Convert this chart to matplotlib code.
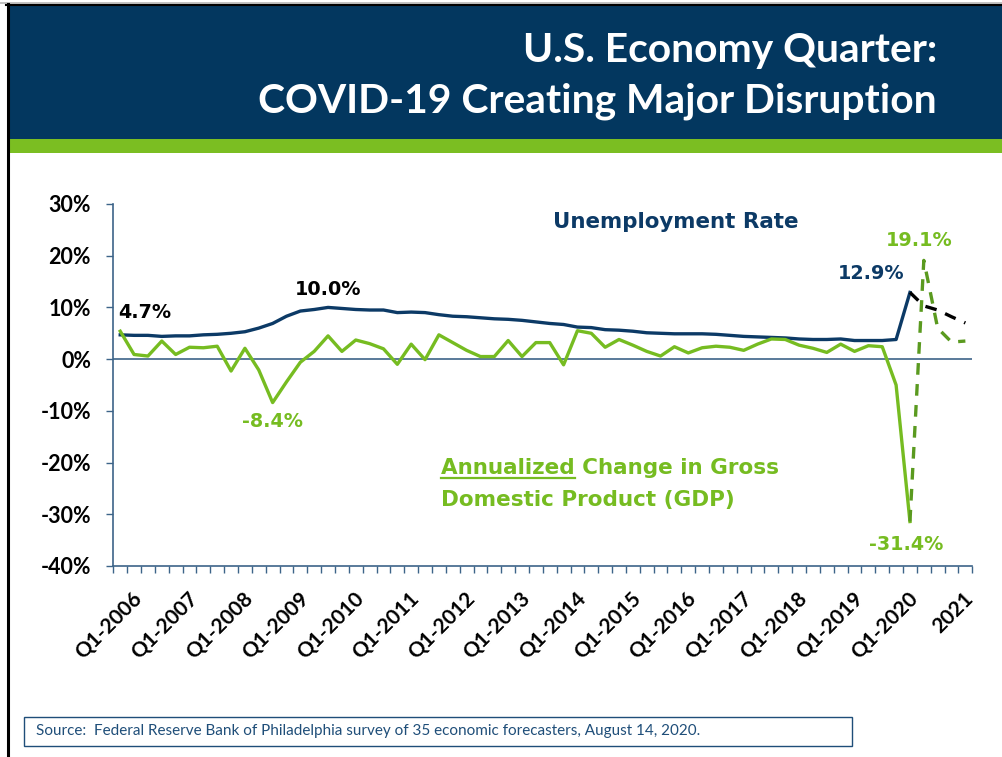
import matplotlib
matplotlib.use('Agg')
import matplotlib.pyplot as plt
import matplotlib.transforms as mtransforms
import numpy as np
from matplotlib.patches import Rectangle
from matplotlib.lines import Line2D

# ---------------- data ----------------
tick_labels = ["Q1-2006", "Q1-2007", "Q1-2008", "Q1-2009", "Q1-2010", "Q1-2011",
               "Q1-2012", "Q1-2013", "Q1-2014", "Q1-2015", "Q1-2016", "Q1-2017",
               "Q1-2018", "Q1-2019", "Q1-2020", "2021"]
n_quarters = 62  # Q1-2006 .. Q2-2021

unemp_actual = [4.7, 4.6, 4.6, 4.4, 4.5, 4.5, 4.7, 4.8,
                5.0, 5.3, 6.0, 6.9, 8.3, 9.3, 9.6, 10.0,
                9.8, 9.6, 9.5, 9.5, 9.0, 9.1, 9.0, 8.6,
                8.3, 8.2, 8.0, 7.8, 7.7, 7.5, 7.2, 6.9,
                6.7, 6.2, 6.1, 5.7, 5.6, 5.4, 5.1, 5.0,
                4.9, 4.9, 4.9, 4.8, 4.6, 4.4, 4.3, 4.2,
                4.1, 3.9, 3.8, 3.8, 3.9, 3.6, 3.6, 3.6,
                3.8, 12.9]
unemp_forecast = [12.9, 10.3, 9.5, 8.2, 7.0]

gdp_actual = [5.4, 0.9, 0.6, 3.5, 0.9, 2.3, 2.2, 2.5,
              -2.3, 2.1, -2.1, -8.4, -4.4, -0.6, 1.5, 4.5,
              1.5, 3.7, 3.0, 2.0, -1.0, 2.9, -0.1, 4.7,
              3.2, 1.7, 0.5, 0.5, 3.6, 0.5, 3.2, 3.2,
              -1.1, 5.5, 5.0, 2.3, 3.8, 2.7, 1.5, 0.6,
              2.4, 1.2, 2.2, 2.5, 2.3, 1.7, 2.9, 3.9,
              3.8, 2.7, 2.1, 1.3, 2.9, 1.5, 2.6, 2.4,
              -5.0, -31.4]
gdp_forecast = [-31.4, 19.1, 6.0, 3.3, 3.5]

y_ticks = [-40, -30, -20, -10, 0, 10, 20, 30]

# ---------------- style ----------------
NAVY_BAND = '#03375F'
GREEN_BAND = '#7BBE22'
NAVY = '#0C3A66'
GREEN = '#76BC21'
GREEN_DARK = '#5A9A1F'
AXIS = '#3D6489'
SRC = '#1F4E79'
CAL = ['Lato', 'DejaVu Sans']
VER = ['DejaVu Sans']

W, H = 1003, 757
fig = plt.figure(figsize=(W / 100, H / 100), dpi=100)
fig.patch.set_facecolor('white')


def fx(x):
    return x / W


def fy(y):
    return 1 - y / H


# header band
fig.add_artist(Rectangle((fx(9), fy(139)), (W - 9) / W, (139 - 6) / H,
                         transform=fig.transFigure, facecolor=NAVY_BAND, lw=0))
fig.add_artist(Rectangle((fx(9), fy(153)), (W - 9) / W, 14 / H,
                         transform=fig.transFigure, facecolor=GREEN_BAND, lw=0))
fig.add_artist(Line2D([0, 1], [fy(2.5)] * 2, transform=fig.transFigure,
                      color='#b8b8b8', lw=1.2))
fig.add_artist(Line2D([fx(6), 1], [fy(5)] * 2, transform=fig.transFigure,
                      color='black', lw=1.5))
fig.add_artist(Line2D([fx(8)] * 2, [fy(4), fy(755)], transform=fig.transFigure,
                      color='black', lw=2.2))

fig.text(fx(937), fy(62), "U.S. Economy Quarter:", color='white', ha='right',
         va='baseline', fontsize=29.3, fontweight='bold', family=CAL)
fig.text(fx(937), fy(112), "COVID-19 Creating Major Disruption", color='white',
         ha='right', va='baseline', fontsize=29.3, fontweight='bold', family=CAL)

# ---------------- axes ----------------
ax = fig.add_axes([113.3 / W, 1 - 566 / H, 859 / W, 362 / H])
x_all = np.arange(n_quarters)
x_act = x_all[:len(unemp_actual)]
x_fc = x_all[len(unemp_actual) - 1:len(unemp_actual) - 1 + len(unemp_forecast)]

ax.axhline(0, color=AXIS, lw=1.2, zorder=1)
ax.plot(x_act, unemp_actual, color=NAVY, lw=2.4, zorder=3, solid_joinstyle='round')
ax.plot(x_act, gdp_actual, color=GREEN, lw=2.4, zorder=3, solid_joinstyle='round')
ax.plot(x_fc, unemp_forecast, color='black', lw=2.4, ls=(0, (3.5, 2.8)), zorder=4)
ax.plot(x_fc, gdp_forecast, color=GREEN_DARK, lw=2.4, ls=(0, (3.5, 2.8)), zorder=4)

ax.set_xlim(-0.5, n_quarters - 0.5)
ax.set_ylim(-40, 30)
for s in ['top', 'right']:
    ax.spines[s].set_visible(False)
for s in ['left', 'bottom']:
    ax.spines[s].set_color(AXIS)
    ax.spines[s].set_linewidth(1.2)

ax.set_yticks(y_ticks)
ax.set_yticklabels([f"{v}%" for v in y_ticks], fontsize=15.5, fontweight='bold', family=CAL)
ax.tick_params(axis='y', direction='out', length=5, width=1, color=AXIS, pad=11)

ax.set_xticks(np.arange(0, n_quarters, 4))
ax.set_xticklabels(tick_labels, fontsize=15, fontweight='bold', family=CAL,
                   rotation=45, ha='right', va='top', rotation_mode='anchor')
ax.set_xticks(np.arange(-0.5, n_quarters, 1), minor=True)
ax.tick_params(axis='x', which='major', length=0, pad=16)
ax.tick_params(axis='x', which='minor', direction='out', length=5, width=1, color=AXIS)
for lab in ax.get_xticklabels():
    lab.set_transform(lab.get_transform() +
                      mtransforms.ScaledTranslation(12 / 100, 0, fig.dpi_scale_trans))


# data labels
def dlabel(text, i, v, dx, dy, color):
    ax.annotate(text, xy=(i, v), xytext=(dx, dy), textcoords='offset pixels',
                ha='center', va='center', fontsize=13.8, fontweight='bold',
                color=color, family=VER, zorder=5)


dlabel("4.7%", 0, unemp_actual[0], 25, 22, 'black')
dlabel("10.0%", 15, unemp_actual[15], 0, 18, 'black')
dlabel("-8.4%", 11, gdp_actual[11], 0, -19, GREEN)
dlabel("12.9%", 57, unemp_actual[57], -39, 19, NAVY)
dlabel("19.1%", 58, gdp_forecast[1], -5, 20, GREEN)
dlabel("-31.4%", 57, gdp_actual[57], -4, -23, GREEN)

fig.text(fx(553), fy(228), "Unemployment Rate", color=NAVY, ha='left',
         va='baseline', fontsize=15.4, fontweight='bold', family=VER)
fig.text(fx(441), fy(474), "Annualized Change in Gross", color=GREEN, ha='left',
         va='baseline', fontsize=15.5, fontweight='bold', family=VER)
fig.text(fx(441), fy(506), "Domestic Product (GDP)", color=GREEN, ha='left',
         va='baseline', fontsize=15.5, fontweight='bold', family=VER)
probe = fig.text(fx(441), fy(474), "Annualized", ha='left', va='baseline',
                 fontsize=15.5, fontweight='bold', family=VER, alpha=0)
fig.canvas.draw()
bb = probe.get_window_extent()
fig.add_artist(Line2D([bb.x0 / W, bb.x1 / W], [fy(478)] * 2,
                      transform=fig.transFigure, color=GREEN, lw=1.6))
probe.remove()

# source box
fig.add_artist(Rectangle((fx(24), fy(746)), (852 - 24) / W, (746 - 717) / H,
                         transform=fig.transFigure, facecolor='none',
                         edgecolor=SRC, lw=1))
fig.text(fx(36), fy(731.5),
         "Source:  Federal Reserve Bank of Philadelphia survey of 35 economic forecasters, August 14, 2020.",
         color=SRC, ha='left', va='center', fontsize=11, family=CAL)

fig.savefig('out.png', dpi=100)
